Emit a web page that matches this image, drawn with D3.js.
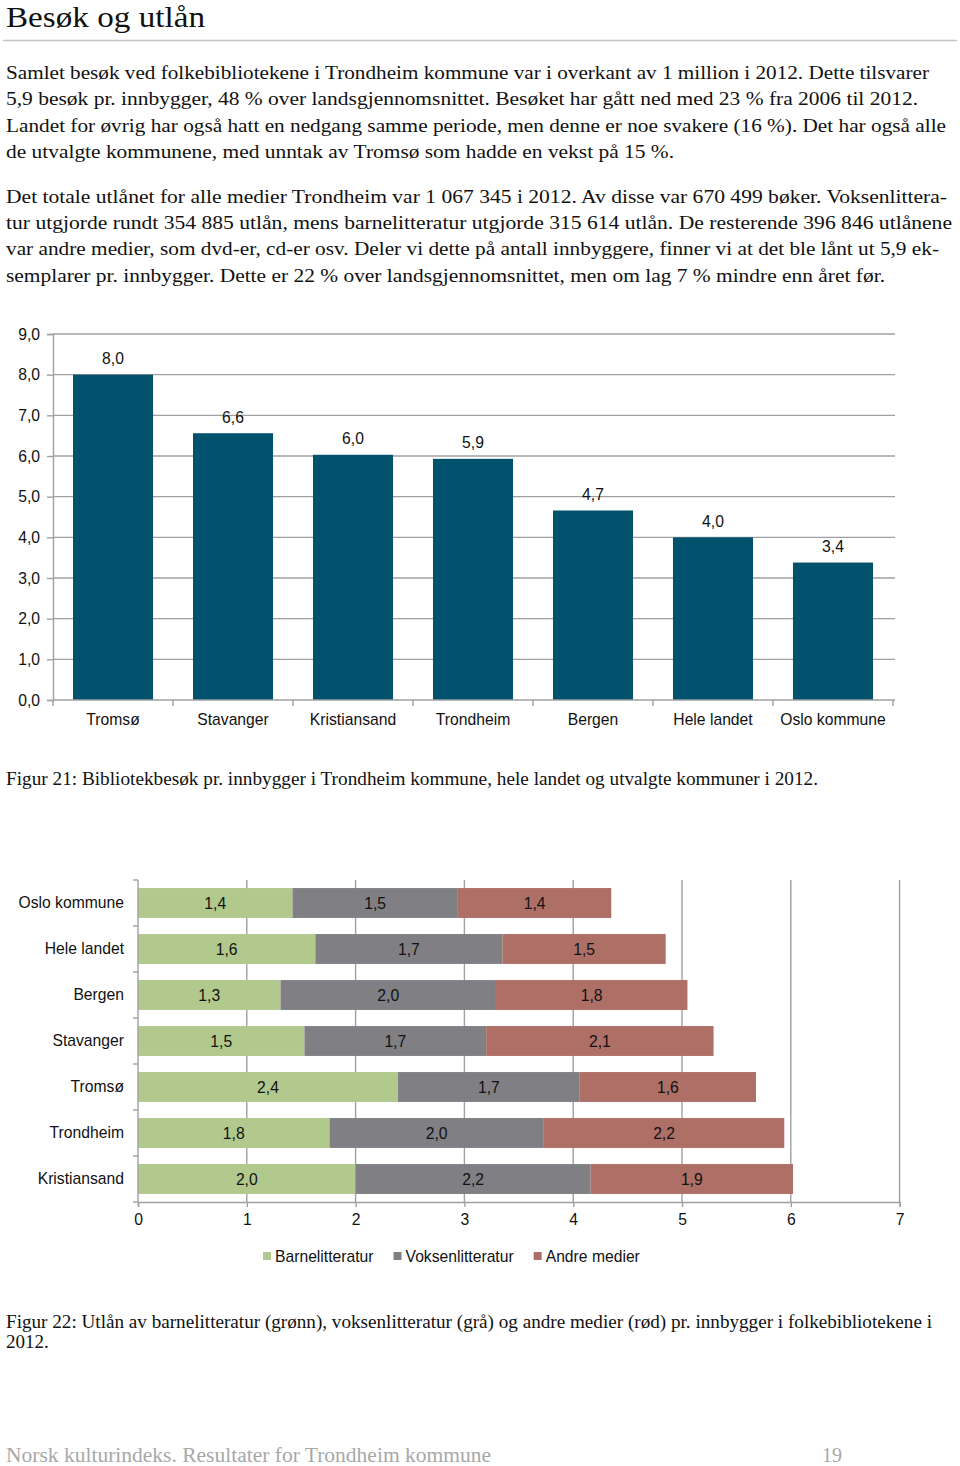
<!DOCTYPE html>
<html>
<head>
<meta charset="utf-8">
<script src="https://cdn.jsdelivr.net/npm/d3@7"></script>
<style>
  html, body { margin: 0; padding: 0; background: #fff; }
  svg { display: block; }
</style>
</head>
<body>
<svg id="page" width="960" height="1466"></svg>
<script>
// ---------- DATA ----------
const visitCategories = ["Tromsø", "Stavanger", "Kristiansand", "Trondheim", "Bergen", "Hele landet", "Oslo kommune"];
const visitValues = [8.0, 6.56, 6.03, 5.93, 4.66, 4.0, 3.38];
const visitTicks = [0, 1, 2, 3, 4, 5, 6, 7, 8, 9];

const loanCategories = ["Oslo kommune", "Hele landet", "Bergen", "Stavanger", "Tromsø", "Trondheim", "Kristiansand"];
const loanSeries = ["Barnelitteratur", "Voksenlitteratur", "Andre medier"];
const barneValues = [1.42, 1.63, 1.31, 1.53, 2.39, 1.76, 2.0];
const voksenValues = [1.52, 1.72, 1.98, 1.67, 1.67, 1.97, 2.16];
const andreValues = [1.41, 1.5, 1.76, 2.09, 1.62, 2.21, 1.86];
const loanTicks = [0, 1, 2, 3, 4, 5, 6, 7];

const titleText = "Besøk og utlån";
const paragraph1 = [
  "Samlet besøk ved folkebibliotekene i Trondheim kommune var i overkant av 1 million i 2012. Dette tilsvarer",
  "5,9 besøk pr. innbygger, 48 % over landsgjennomsnittet. Besøket har gått ned med 23 % fra 2006 til 2012.",
  "Landet for øvrig har også hatt en nedgang samme periode, men denne er noe svakere (16 %). Det har også alle",
  "de utvalgte kommunene, med unntak av Tromsø som hadde en vekst på 15 %."
];
const paragraph2 = [
  "Det totale utlånet for alle medier Trondheim var 1 067 345 i 2012. Av disse var 670 499 bøker. Voksenlittera-",
  "tur utgjorde rundt 354 885 utlån, mens barnelitteratur utgjorde 315 614 utlån. De resterende 396 846 utlånene",
  "var andre medier, som dvd-er, cd-er osv. Deler vi dette på antall innbyggere, finner vi at det ble lånt ut 5,9 ek-",
  "semplarer pr. innbygger. Dette er 22 % over landsgjennomsnittet, men om lag 7 % mindre enn året før."
];
const caption1 = "Figur 21: Bibliotekbesøk pr. innbygger i Trondheim kommune,  hele landet og utvalgte kommuner i 2012.";
const caption2 = [
  "Figur 22: Utlån av barnelitteratur (grønn), voksenlitteratur (grå) og andre medier (rød) pr. innbygger i folkebibliotekene i",
  "2012."
];
const footerText = "Norsk kulturindeks. Resultater for Trondheim kommune";
const pageNumber = "19";

// ---------- SETUP ----------
const svg = d3.select("#page");
const serif = "'Liberation Serif', 'Times New Roman', serif";
const sans = "'Liberation Sans', Arial, sans-serif";
const fs = 15.7;
const nb = d3.formatLocale({decimal: ",", thousands: " ", grouping: [3], currency: ["", ""]});
const f1 = nb.format(".1f");
const f0 = nb.format("d");

svg.append("rect").attr("width", 960).attr("height", 1466).attr("fill", "#fff");

// Title and rule
svg.append("text").attr("x", 6).attr("y", 27)
  .attr("font-family", serif).attr("font-size", 29).attr("fill", "#111")
  .attr("textLength", 199).attr("lengthAdjust", "spacingAndGlyphs")
  .text(titleText);
svg.append("line").attr("x1", 3).attr("x2", 957).attr("y1", 40.5).attr("y2", 40.5)
  .attr("stroke", "#c4c4c4").attr("stroke-width", 1.5);

// Body text
const p1Widths = [923, 912, 940, 668];
const p2Widths = [941, 946, 933, 879];
const p1Base = [79, 105.3, 131.5, 157.7];
const p2Base = [203, 229.2, 255.4, 281.6];
function textLines(lines, bases, widths, size, color) {
  lines.forEach((t, i) => {
    svg.append("text").attr("x", 6).attr("y", bases[i])
      .attr("font-family", serif).attr("font-size", size).attr("fill", color)
      .attr("textLength", widths[i]).attr("lengthAdjust", "spacingAndGlyphs")
      .text(t);
  });
}
textLines(paragraph1, p1Base, p1Widths, 19, "#111");
textLines(paragraph2, p2Base, p2Widths, 19, "#111");

// ---------- CHART 1: vertical bars ----------
const c1 = {left: 53, right: 893, top: 334, bottom: 700};
const y1 = d3.scaleLinear().domain([0, 9]).range([c1.bottom, c1.top]);
const x1 = d3.scaleBand().domain(visitCategories).range([c1.left, c1.right])
  .paddingInner(0.333).paddingOuter(0.1667);
const g1 = svg.append("g");
const gridColor = "#a0a0a0";

// gridlines
g1.append("g").selectAll("line").data(visitTicks.filter(d => d > 0)).join("line")
  .attr("x1", c1.left).attr("x2", 895)
  .attr("y1", d => y1(d)).attr("y2", d => y1(d))
  .attr("stroke", gridColor).attr("stroke-width", 1.4);

// y axis
const yAxis1 = g1.append("g").attr("transform", `translate(${c1.left},0)`)
  .call(d3.axisLeft(y1).tickValues(visitTicks).tickFormat(f1).tickSize(6).tickPadding(7));
yAxis1.select(".domain").attr("stroke", gridColor).attr("stroke-width", 1.4);
yAxis1.selectAll(".tick line").attr("stroke", gridColor).attr("stroke-width", 1.4);
yAxis1.selectAll(".tick text").attr("font-family", sans).attr("font-size", fs).attr("fill", "#111");

// bars
g1.append("g").selectAll("rect").data(visitCategories).join("rect")
  .attr("x", d => x1(d)).attr("width", x1.bandwidth())
  .attr("y", (d, i) => y1(visitValues[i]))
  .attr("height", (d, i) => c1.bottom - y1(visitValues[i]))
  .attr("fill", "#02526d");

// x axis
const xAxis1 = g1.append("g").attr("transform", `translate(0,${c1.bottom})`);
xAxis1.append("line").attr("x1", c1.left).attr("x2", 895).attr("y1", 0).attr("y2", 0)
  .attr("stroke", gridColor).attr("stroke-width", 1.4);
const bounds1 = visitCategories.map(d => x1(d) - x1.step() * x1.paddingInner() / 2);
bounds1.push(c1.right);
xAxis1.selectAll("line.tk").data(bounds1).join("line").attr("class", "tk")
  .attr("x1", d => d).attr("x2", d => d).attr("y1", 0).attr("y2", 6)
  .attr("stroke", gridColor).attr("stroke-width", 1.4);
xAxis1.selectAll("text").data(visitCategories).join("text")
  .attr("x", d => x1(d) + x1.bandwidth() / 2).attr("y", 24.5)
  .attr("text-anchor", "middle").attr("font-family", sans).attr("font-size", fs).attr("fill", "#111")
  .text(d => d);

// value labels
g1.append("g").selectAll("text").data(visitCategories).join("text")
  .attr("x", d => x1(d) + x1.bandwidth() / 2)
  .attr("y", (d, i) => y1(visitValues[i]) - 10.5)
  .attr("text-anchor", "middle").attr("font-family", sans).attr("font-size", fs).attr("fill", "#111")
  .text((d, i) => f1(visitValues[i]));

// caption 1
svg.append("text").attr("x", 6).attr("y", 785)
  .attr("font-family", serif).attr("font-size", 19).attr("fill", "#111")
  .attr("textLength", 812).attr("lengthAdjust", "spacingAndGlyphs")
  .text(caption1);

// ---------- CHART 2: stacked horizontal bars ----------
const c2 = {left: 138, right: 899.6, top: 880, bottom: 1202};
const x2 = d3.scaleLinear().domain([0, 7]).range([c2.left, c2.right]);
const y2 = d3.scaleBand().domain(loanCategories).range([c2.top, c2.bottom])
  .paddingInner(0.35).paddingOuter(0.175);
const g2 = svg.append("g");
const loanColors = ["#b2c98e", "#7f7f84", "#ad6f66"];

const table = loanCategories.map((c, i) => ({
  cat: c, Barnelitteratur: barneValues[i], Voksenlitteratur: voksenValues[i], "Andre medier": andreValues[i]
}));
const stacked = d3.stack().keys(loanSeries)(table);

// vertical gridlines
g2.append("g").selectAll("line").data(loanTicks.filter(d => d > 0)).join("line")
  .attr("x1", d => x2(d)).attr("x2", d => x2(d))
  .attr("y1", c2.top).attr("y2", c2.bottom)
  .attr("stroke", gridColor).attr("stroke-width", 1.4);

// bars
stacked.forEach((s, si) => {
  g2.append("g").selectAll("rect").data(s).join("rect")
    .attr("x", d => x2(d[0])).attr("width", d => x2(d[1]) - x2(d[0]))
    .attr("y", d => y2(d.data.cat)).attr("height", y2.bandwidth())
    .attr("fill", loanColors[si]);
  g2.append("g").selectAll("text").data(s).join("text")
    .attr("x", d => (x2(d[0]) + x2(d[1])) / 2)
    .attr("y", d => y2(d.data.cat) + y2.bandwidth() / 2 + 5.5)
    .attr("text-anchor", "middle").attr("font-family", sans).attr("font-size", fs).attr("fill", "#111")
    .text(d => f1(d[1] - d[0]));
});

// left axis
const yAxis2 = g2.append("g");
yAxis2.append("line").attr("x1", c2.left).attr("x2", c2.left).attr("y1", c2.top).attr("y2", c2.bottom)
  .attr("stroke", gridColor).attr("stroke-width", 1.4);
const bounds2 = loanCategories.map(d => y2(d) - y2.step() * y2.paddingInner() / 2);
bounds2.push(c2.bottom);
yAxis2.selectAll("line.tk").data(bounds2).join("line").attr("class", "tk")
  .attr("x1", c2.left - 5).attr("x2", c2.left).attr("y1", d => d).attr("y2", d => d)
  .attr("stroke", gridColor).attr("stroke-width", 1.4);
yAxis2.selectAll("text").data(loanCategories).join("text")
  .attr("x", 124).attr("y", d => y2(d) + y2.bandwidth() / 2 + 5)
  .attr("text-anchor", "end").attr("font-family", sans).attr("font-size", fs).attr("fill", "#111")
  .text(d => d);

// bottom axis
const xAxis2 = g2.append("g").attr("transform", `translate(0,${c2.bottom})`)
  .call(d3.axisBottom(x2).tickValues(loanTicks).tickFormat(f0).tickSize(5).tickPadding(7));
xAxis2.select(".domain").attr("stroke", gridColor).attr("stroke-width", 1.4);
xAxis2.selectAll(".tick line").attr("stroke", gridColor).attr("stroke-width", 1.4);
xAxis2.selectAll(".tick text").attr("font-family", sans).attr("font-size", fs).attr("fill", "#111");

// legend
const legend = svg.append("g");
let lx = 0;
const items = [];
loanSeries.forEach((s, i) => {
  const it = legend.append("g");
  it.append("rect").attr("x", 0).attr("y", -4).attr("width", 8).attr("height", 8).attr("fill", loanColors[i]);
  const t = it.append("text").attr("x", 12).attr("y", 5.5)
    .attr("font-family", sans).attr("font-size", fs).attr("fill", "#111").text(s);
  const w = 12 + t.node().getComputedTextLength();
  items.push({it, x: lx});
  lx += w + 20;
});
const lstart = 263;
items.forEach(d => d.it.attr("transform", `translate(${lstart + d.x},1256)`));

// caption 2
svg.append("text").attr("x", 6).attr("y", 1328)
  .attr("font-family", serif).attr("font-size", 19).attr("fill", "#111")
  .attr("textLength", 926).attr("lengthAdjust", "spacingAndGlyphs")
  .text(caption2[0]);
svg.append("text").attr("x", 6).attr("y", 1348)
  .attr("font-family", serif).attr("font-size", 19).attr("fill", "#111")
  .text(caption2[1]);

// footer
svg.append("text").attr("x", 6).attr("y", 1462)
  .attr("font-family", serif).attr("font-size", 20).attr("fill", "#a8a8a8")
  .attr("textLength", 485).attr("lengthAdjust", "spacingAndGlyphs")
  .text(footerText);
svg.append("text").attr("x", 822).attr("y", 1462)
  .attr("font-family", serif).attr("font-size", 20).attr("fill", "#a8a8a8")
  .text(pageNumber);
</script>
</body>
</html>
